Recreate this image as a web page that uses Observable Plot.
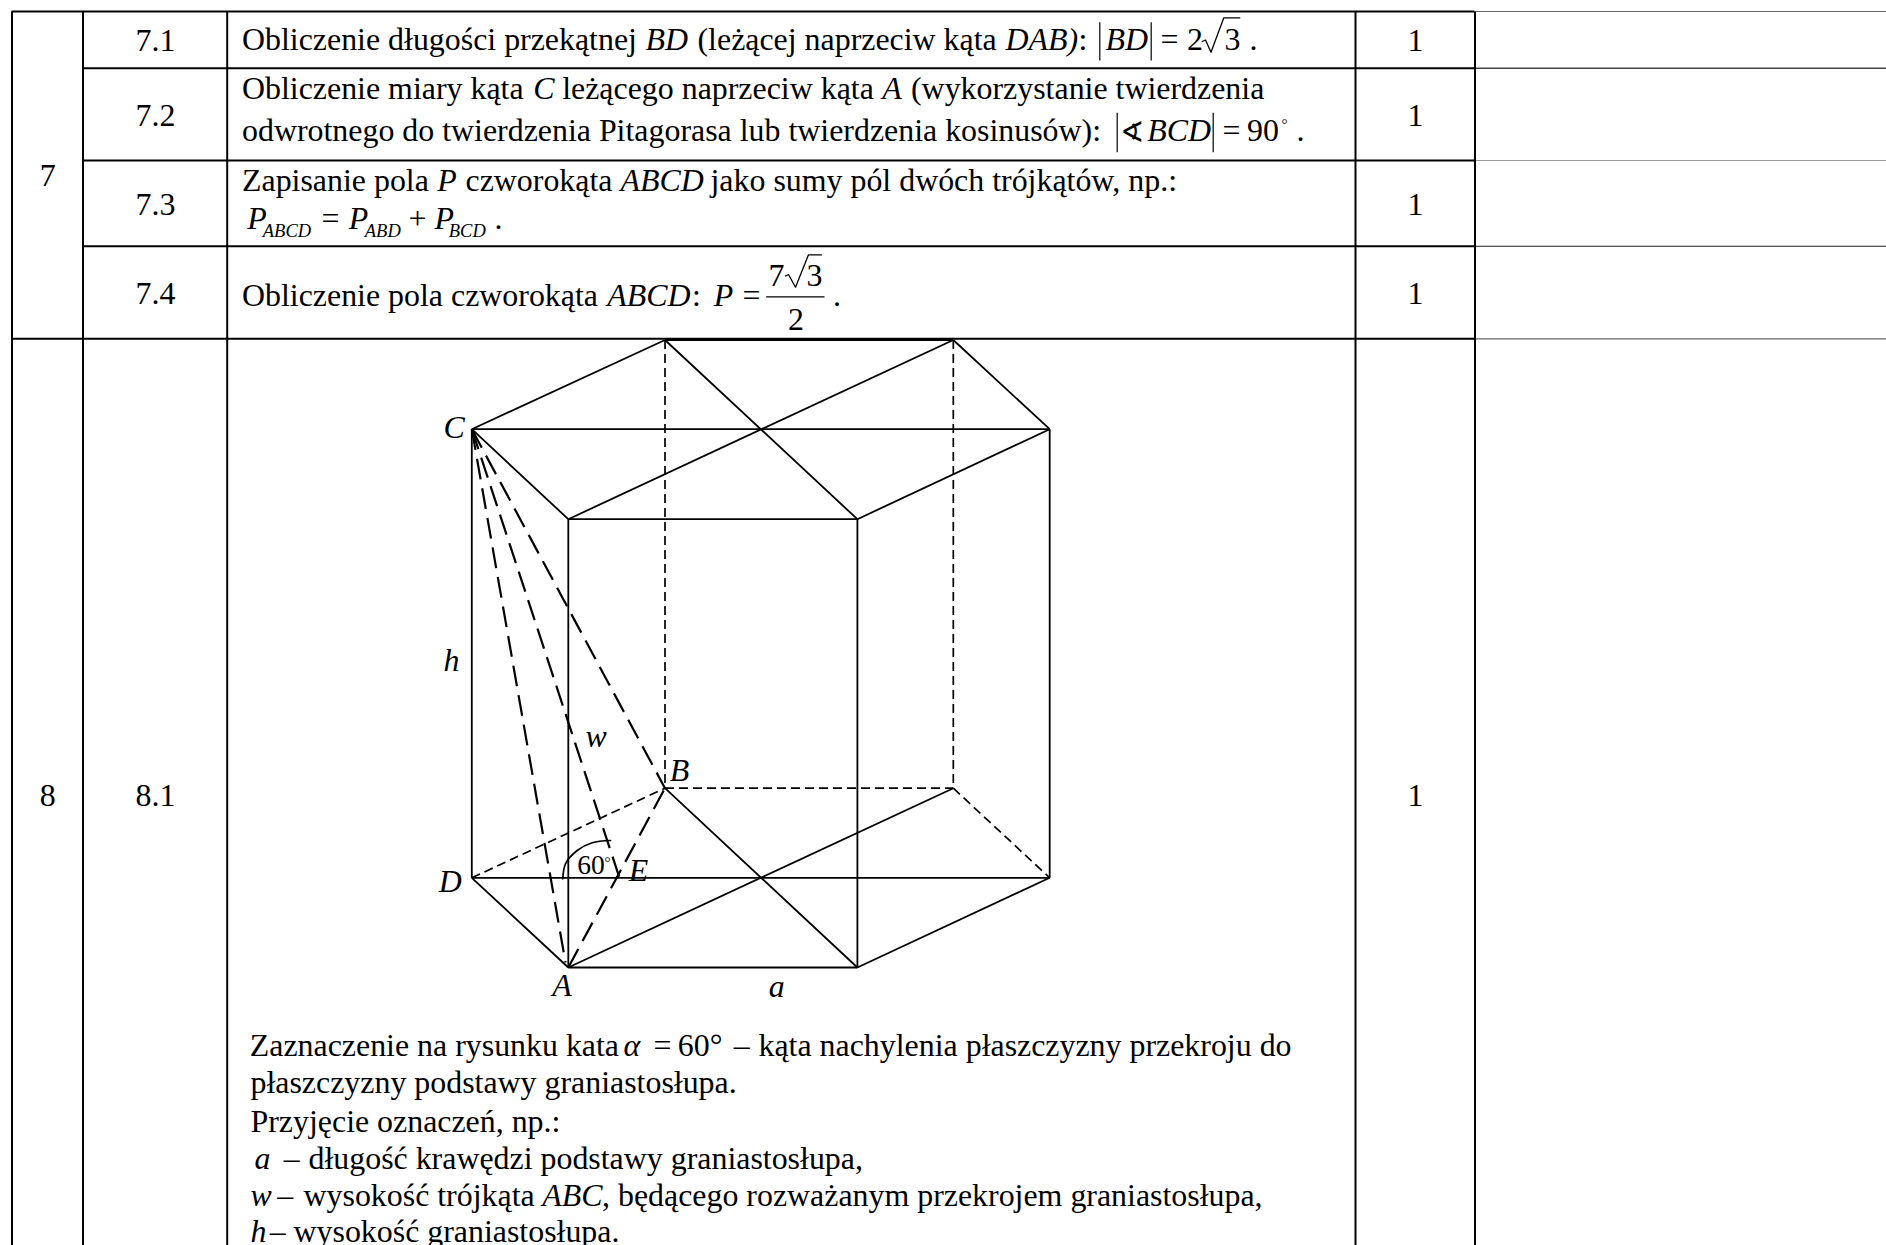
<!DOCTYPE html>
<html><head><meta charset="utf-8">
<script src="https://cdn.jsdelivr.net/npm/d3@7"></script>
<script src="https://cdn.jsdelivr.net/npm/@observablehq/plot@0.6"></script>
<style>html,body{margin:0;padding:0;background:#fff;overflow:hidden}svg{display:block}</style>
</head><body><div id="c"></div>
<script>
// table grid
const gridRows = [
 [11,11,1474,"#000",2],[67.7,82,1474,"#000",2],[160,82,1474,"#000",2],[245.7,82,1474,"#000",2],[338.3,11,1474,"#000",2],
 [11,1474,1886,"#666",1.2],[67.7,1474,1886,"#444",1.6],[160,1474,1886,"#999",1.2],[245.7,1474,1886,"#222",1.1],[338.3,1474,1886,"#666",1.3]
];
const gridCols = [11.5,82.5,226.7,1355,1474.5];
// prism vertices
const V = {C:[471.3,428.7],TL:[664.5,339.5],TR:[952.8,339.5],R:[1049.2,428.7],FL:[567.8,518.7],FR:[856.9,518.7],
 D:[471.3,877.3],A:[567.8,967],BR:[856.9,967],B:[664.5,787.7],Q:[952.8,787.7],S:[1049.2,877.3],E:[619,877.3],Foot:[565,962]};
const solidEdges = ["C-TL","TL-TR","TR-R","R-FR","FR-FL","FL-C","C-R","TL-FR","FL-TR","C-D","R-S","FL-A","FR-BR","D-A","A-BR","BR-S","D-S","A-Q","B-BR"];
const thinDashed = ["TL-B","TR-Q","D-B","B-Q","Q-S"];
const longDashed = ["C-Foot","C-E","C-B","A-B"];
const angleArc = [[562.3,878.3],[565,863.3],[576.7,850],[591.7,842.3],[610,840]];
// radicals and bars
const radical1 = [[1201.7,41],[1205,39.5],[1210.5,51.7],[1223.3,17.3],[1239.3,17.3]];
const radical2 = [[785,275.5],[788,274],[795,286.7],[808,254.3],[821,254.3]];
const absBars = [[1099.3,21.7,60],[1150.7,21.7,60],[1116.7,112.3,151.7],[1212.7,112.3,151.7]];
const fractionBar = [[765.7,296.3,824,296.3]];
// text runs: text, x, baseline
const roman = [
 ["7",39.3,185.7],["8",39.3,805],["7.1",135,50.7],["7.2",135,125.7],["7.3",135,214.3],["7.4",135,303.3],["8.1",135,805],
 ["1",1407,50.7],["1",1407,125.7],["1",1407,214.3],["1",1407,303.3],["1",1407,805],
 ["Obliczenie długości przekątnej",241.5,49.3],["(leżącej naprzeciw kąta",697,49.3],[":",1078,49.3],["=",1160,49.3],["2",1186.5,49.3],["3",1224,49.3],[".",1249,49.3],
 ["Obliczenie miary kąta",241.5,98.3],["leżącego naprzeciw kąta",561.7,98.3],["(wykorzystanie twierdzenia",910.5,98.3],
 ["odwrotnego do twierdzenia Pitagorasa lub twierdzenia kosinusów):",241.5,140],["=",1222,140],["90",1246.5,140],[".",1296,140],
 ["Zapisanie pola",241.5,190],["czworokąta",465,190],["jako sumy pól dwóch trójkątów, np.:",710,190],
 ["=",321,228.3],["+",408,228.3],[".",494,228.3],
 ["Obliczenie pola czworokąta",241.5,305],[":",691.5,305],["=",742,305],["7",768,285],["3",806,285],["2",787.5,329.3],[".",832.5,305],
 ["Zaznaczenie na rysunku kata",249.3,1055.7],["=",653,1055.7],["60°",677.3,1055.7],["–",733.3,1055.7],["kąta nachylenia płaszczyzny przekroju do",758,1055.7],
 ["płaszczyzny podstawy graniastosłupa.",250,1092.5],["Przyjęcie oznaczeń, np.:",250,1131],
 ["–",283.3,1168.3],["długość krawędzi podstawy graniastosłupa,",308,1168.3],["–",276.7,1205],["wysokość trójkąta",303,1205],[", będącego rozważanym przekrojem graniastosłupa,",601.5,1205],
 ["–",269.3,1241.7],["wysokość graniastosłupa.",293,1241.7]
];
const italic = [
 ["BD",645,49.3],["DAB)",1005,49.3],["BD",1105,49.3],
 ["C",532.7,98.3],["A",881.7,98.3],["BCD",1146.7,140],
 ["P",436.7,190],["ABCD",620,190],
 ["P",246.7,228.3],["P",348.3,228.3],["P",434,228.3],
 ["ABCD",606.7,305],["P",713.3,305],
 ["α",623,1055.7],["a",254,1168.3],["w",250,1205],["ABC",541.7,1205],["h",250,1241.7],
 ["C",443,437],["h",443,670],["w",585,746.7],["B",669.3,780],["E",628.3,880],["D",438.3,891.7],["A",551.7,995],["a",768.3,996.7]
];
const subscripts = [["ABCD",262.3,236.7],["ABD",364.3,236.7],["BCD",448.3,236.7]];
const small = [["60",576.7,873.3]];
const tiny = [["°",1281,128],["°",604,866]];
const angleSign = [["∢",1119.5,141]];

const edges = (list) => list.map(s => { const [a,b] = s.split("-"); return {x1:V[a][0],y1:V[a][1],x2:V[b][0],y2:V[b][1]}; });
const linkOpts = {x1:"x1",y1:"y1",x2:"x2",y2:"y2",stroke:"#000"};
const txt = (rows, o) => Plot.text(rows,{x:d=>d[1],y:d=>d[2],text:d=>d[0],textAnchor:"start",lineAnchor:"bottom",fill:"#000",fontFamily:"Liberation Serif",...o});

const plot = Plot.plot({
 width:1886,height:1245,margin:0,
 x:{domain:[0,1886],range:[0,1886],axis:null},
 y:{domain:[0,1245],range:[0,1245],axis:null},
 style:{background:"#fff"},
 marks:[
  Plot.link(edges(solidEdges),{...linkOpts,strokeWidth:1.8}),
  Plot.link(edges(thinDashed),{...linkOpts,strokeWidth:1.7,strokeDasharray:"9,5"}),
  Plot.link(edges(longDashed),{...linkOpts,strokeWidth:2.2,strokeDasharray:"21,9"}),
  Plot.line(angleArc,{x:d=>d[0],y:d=>d[1],curve:"catmull-rom",stroke:"#000",strokeWidth:1.7}),
  Plot.line(radical1,{x:d=>d[0],y:d=>d[1],stroke:"#000",strokeWidth:1.3}),
  Plot.line(radical2,{x:d=>d[0],y:d=>d[1],stroke:"#000",strokeWidth:1.3}),
  Plot.link(absBars,{x1:d=>d[0],y1:d=>d[1],x2:d=>d[0],y2:d=>d[2],stroke:"#000",strokeWidth:1.2}),
  Plot.link(fractionBar,{x1:d=>d[0],y1:d=>d[1],x2:d=>d[2],y2:d=>d[3],stroke:"#000",strokeWidth:1.3}),
  Plot.link(gridRows,{x1:d=>d[1],y1:d=>d[0],x2:d=>d[2],y2:d=>d[0],stroke:d=>d[3],strokeWidth:d=>d[4]}),
  Plot.link(gridCols,{x1:d=>d,y1:11,x2:d=>d,y2:1245,stroke:"#000",strokeWidth:2}),
  txt(roman,{fontSize:31.9}),
  txt(italic,{fontSize:31.9,fontStyle:"italic"}),
  txt(subscripts,{fontSize:18.5,fontStyle:"italic"}),
  txt(small,{fontSize:27.5}),
  txt(tiny,{fontSize:15}),
  txt(angleSign,{fontSize:29,fontFamily:"DejaVu Sans"})
 ]
});
document.getElementById("c").appendChild(plot);
</script></body></html>
